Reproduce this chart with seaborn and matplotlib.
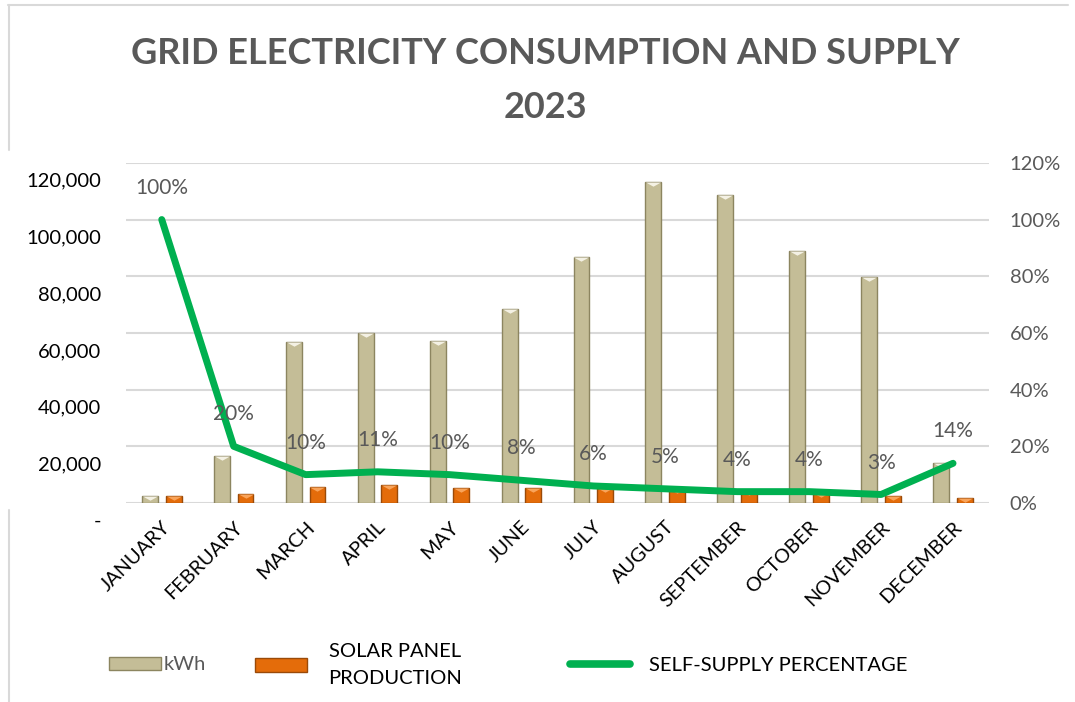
import numpy as np
import pandas as pd
import seaborn as sns
import matplotlib
matplotlib.use("Agg")
import matplotlib.pyplot as plt
import matplotlib.transforms as mtransforms
from matplotlib.ticker import FuncFormatter, FixedLocator
from matplotlib.lines import Line2D
from matplotlib.patches import Patch

months = ["JANUARY", "FEBRUARY", "MARCH", "APRIL", "MAY", "JUNE", "JULY",
          "AUGUST", "SEPTEMBER", "OCTOBER", "NOVEMBER", "DECEMBER"]
kwh = [2300, 16600, 56800, 60000, 57100, 68400, 86800, 113200, 108600, 88900, 79700, 14100]
solar = [2300, 3300, 5500, 6300, 5400, 5400, 5200, 5000, 4300, 3500, 2300, 1900]
self_supply = [1.00, 0.20, 0.10, 0.11, 0.10, 0.08, 0.06, 0.05, 0.04, 0.04, 0.03, 0.14]
left_ticks = [0, 20000, 40000, 60000, 80000, 100000, 120000]
right_ticks = [0, 0.2, 0.4, 0.6, 0.8, 1.0, 1.2]

TAN, TAN_EDGE, TAN_TOP = "#C4BD97", "#8C8560", "#F4F1E4"
ORANGE, ORANGE_EDGE, ORANGE_TOP = "#E46C0A", "#9A4A08", "#F9A45A"
GREEN = "#00B050"
GREY = "#595959"
FRAME = "#D9D9D9"

sns.set_theme(style="white")
plt.rcParams["font.family"] = ["Lato", "DejaVu Sans"]

fig, ax = plt.subplots(figsize=(10.75, 7.02), dpi=100)
fig.subplots_adjust(left=0.117, right=0.92, bottom=0.2835, top=0.768)

# partial chart frame
W, H = 1075, 702
for xs, ys in [([8, 1068], [5, 5]), ([9, 9], [5, 150]), ([9, 9], [510, 702])]:
    fig.add_artist(Line2D([x / W for x in xs], [1 - y / H for y in ys],
                          color=FRAME, linewidth=1.5, transform=fig.transFigure))

df = pd.DataFrame({
    "month": months * 2,
    "value": kwh + solar,
    "series": ["kWh"] * len(months) + ["SOLAR PANEL PRODUCTION"] * len(months),
})
sns.barplot(data=df, x="month", y="value", hue="series", palette=[TAN, ORANGE],
            width=0.66, gap=0.33, saturation=1, legend=False, ax=ax,
            linewidth=1, edgecolor="none")

for cont, ec, topc in zip(ax.containers, [TAN_EDGE, ORANGE_EDGE], [TAN_TOP, ORANGE_TOP]):
    for p in cont:
        p.set_edgecolor(ec)
        p.set_linewidth(1.0)
        cx = p.get_x() + p.get_width() / 2
        h = p.get_height()
        tri = ax.plot([cx], [h], marker=[(-1, 0), (1, 0), (0, -0.55), (-1, 0)],
                      markersize=11, color=topc, markeredgewidth=0, zorder=3)[0]
        tri.set_clip_path(p)

ax.set_ylim(0, 120000)
ax.set_xlim(-0.5, len(months) - 0.5)
ax.yaxis.set_major_locator(FixedLocator(left_ticks))
ax.yaxis.set_major_formatter(FuncFormatter(lambda v, pos: "-" if v == 0 else f"{v:,.0f}"))
ax.yaxis.grid(True, color=FRAME, linewidth=1.5)
ax.set_axisbelow(True)
ax.set_xlabel("")
ax.set_ylabel("")
for s in ax.spines.values():
    s.set_visible(False)
ax.tick_params(axis="y", length=0, pad=18, labelsize=14.5, labelcolor="black")
ax.tick_params(axis="x", length=0, pad=11, labelsize=14.3, labelcolor="black")
for lbl in ax.get_xticklabels():
    lbl.set_rotation(45)
    lbl.set_ha("right")
    lbl.set_rotation_mode("anchor")

offset = mtransforms.ScaledTranslation(0, -17 / 100, fig.dpi_scale_trans)
for t in ax.yaxis.get_major_ticks():
    t.label1.set_transform(t.label1.get_transform() + offset)

ax2 = ax.twinx()
sns.lineplot(x=np.arange(len(months)), y=self_supply, ax=ax2, color=GREEN,
             linewidth=5, solid_joinstyle="round", solid_capstyle="round")
ax2.set_ylim(0, 1.2)
ax2.yaxis.set_major_locator(FixedLocator(right_ticks))
ax2.yaxis.set_major_formatter(FuncFormatter(lambda v, pos: f"{v:.0%}"))
ax2.grid(False)
for s in ax2.spines.values():
    s.set_visible(False)
ax2.tick_params(axis="y", length=0, pad=15, labelsize=14.5, labelcolor=GREY)

for i, v in enumerate(self_supply):
    ax2.annotate(f"{v:.0%}", (i, v), xytext=(0, 23), textcoords="offset points",
                 ha="center", va="center", fontsize=15, color=GREY)

fig.suptitle("GRID ELECTRICITY CONSUMPTION AND SUPPLY\n2023", x=0.507, y=0.948,
             fontsize=26, fontweight="bold", color=GREY, linespacing=1.8, va="top")

ly = 1 - 665 / 702
fs = 14.5
l1 = fig.legend(handles=[Patch(facecolor=TAN, edgecolor=TAN_EDGE)], labels=["kWh"],
                loc="center left", bbox_to_anchor=(99 / W, ly), frameon=False,
                borderpad=0, handlelength=2.6, handleheight=0.65, handletextpad=0.1,
                fontsize=fs)
l1.get_texts()[0].set_color(GREY)
l2 = fig.legend(handles=[Patch(facecolor=ORANGE, edgecolor=ORANGE_EDGE)],
                labels=["SOLAR PANEL\nPRODUCTION"],
                loc="center left", bbox_to_anchor=(245 / W, ly), frameon=False,
                borderpad=0, handlelength=2.6, handleheight=0.65, handletextpad=1.05,
                fontsize=fs, labelspacing=0)
l2.get_texts()[0].set_color("black")
l2.get_texts()[0].set_linespacing(1.75)
l3 = fig.legend(handles=[Line2D([], [], color=GREEN, linewidth=5.5, solid_capstyle="round")],
                labels=["SELF-SUPPLY PERCENTAGE"],
                loc="center left", bbox_to_anchor=(560 / W, ly), frameon=False,
                borderpad=0, handlelength=3.0, handletextpad=0.9, fontsize=fs)
l3.get_texts()[0].set_color("black")

fig.savefig("out.png", dpi=100)
